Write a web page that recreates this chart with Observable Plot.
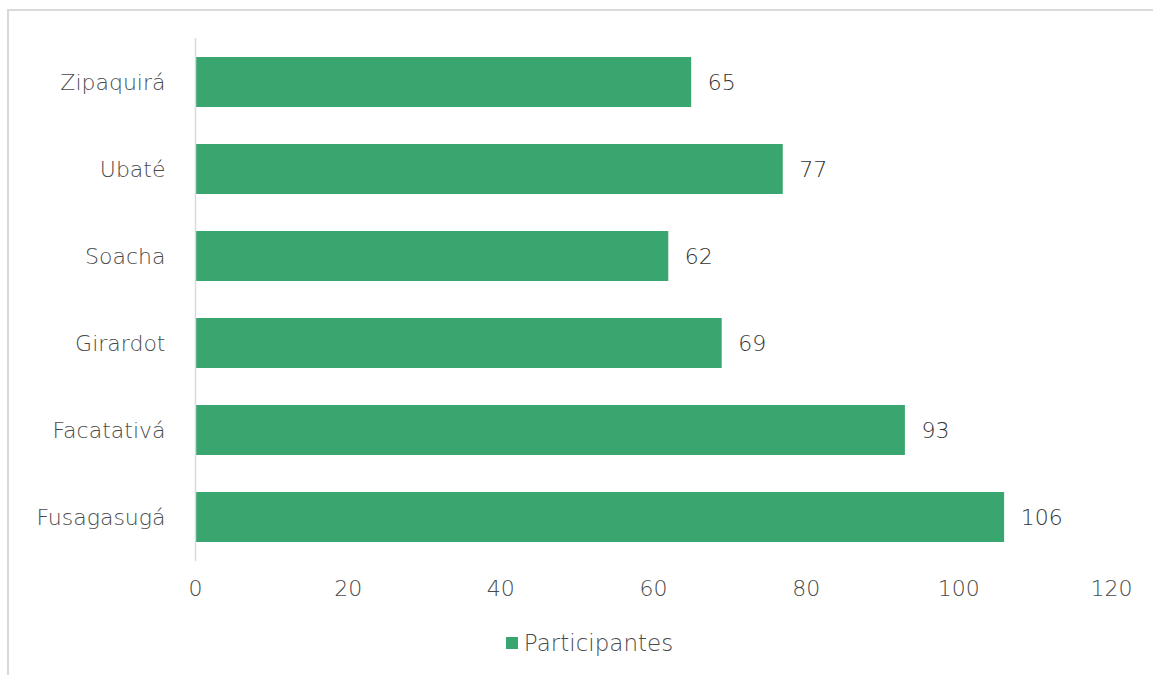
<!DOCTYPE html>
<html>
<head>
<meta charset="utf-8">
<script src="https://cdn.jsdelivr.net/npm/d3@7"></script>
<script src="https://cdn.jsdelivr.net/npm/@observablehq/plot@0.6"></script>
<style>
  html, body { margin: 0; padding: 0; background: #fff; }
  body { width: 1153px; height: 675px; position: relative; overflow: hidden; font-family: "DejaVu Sans", sans-serif; font-weight: 300; }
  #frame { position: absolute; left: 7px; top: 9px; width: 1200px; height: 700px; border-left: 2px solid #d9d9d9; border-top: 2px solid #d9d9d9; }
  #chart { position: absolute; left: 0; top: 0; }
  #legend { position: absolute; left: 0; top: 620px; width: 1153px; height: 46px; display: flex; align-items: center; justify-content: center; color: #4a4a4a; font-size: 23px; padding-left: 26px; box-sizing: border-box; }
  #legend .sw { width: 12px; height: 12px; background: #38a66e; margin-right: 6px; }
  svg text { font-weight: 300; }
</style>
</head>
<body>
<div id="frame"></div>
<div id="chart"></div>
<div id="legend"><span class="sw"></span><span>Participantes</span></div>
<script>
const categories = ["Zipaquirá", "Ubaté", "Soacha", "Girardot", "Facatativá", "Fusagasugá"];
const participantes = [65, 77, 62, 69, 93, 106];
const xTicks = [0, 20, 40, 60, 80, 100, 120];
const seriesName = "Participantes";

const data = categories.map((c, i) => ({ municipio: c, valor: participantes[i] }));

const chart = Plot.plot({
  width: 1153,
  height: 620,
  marginTop: 38,
  marginBottom: 59,
  marginLeft: 195,
  marginRight: 42,
  style: { fontFamily: "'DejaVu Sans', sans-serif", fontSize: "22px", color: "#4a4a4a", background: "transparent" },
  x: { domain: [0, 120], ticks: xTicks, label: null },
  y: { domain: categories, label: null, paddingInner: 0.43, paddingOuter: 0.215 },
  marks: [
    Plot.axisX({ ticks: xTicks, tickSize: 0, tickPadding: 19, fontSize: 22, fill: "#4a4a4a", label: null }),
    Plot.axisY({ tickSize: 0, tickPadding: 30, fontSize: 22, fill: "#4a4a4a", label: null }),
    Plot.barX(data, { x: "valor", y: "municipio", fill: "#38a66e" }),
    Plot.ruleX([0], { stroke: "#d9d9d9", strokeWidth: 1.5 }),
    Plot.text(data, { x: "valor", y: "municipio", text: d => String(d.valor), textAnchor: "start", dx: 16, fontSize: 22, fill: "#333333" })
  ]
});
document.getElementById("chart").appendChild(chart);
</script>
</body>
</html>
